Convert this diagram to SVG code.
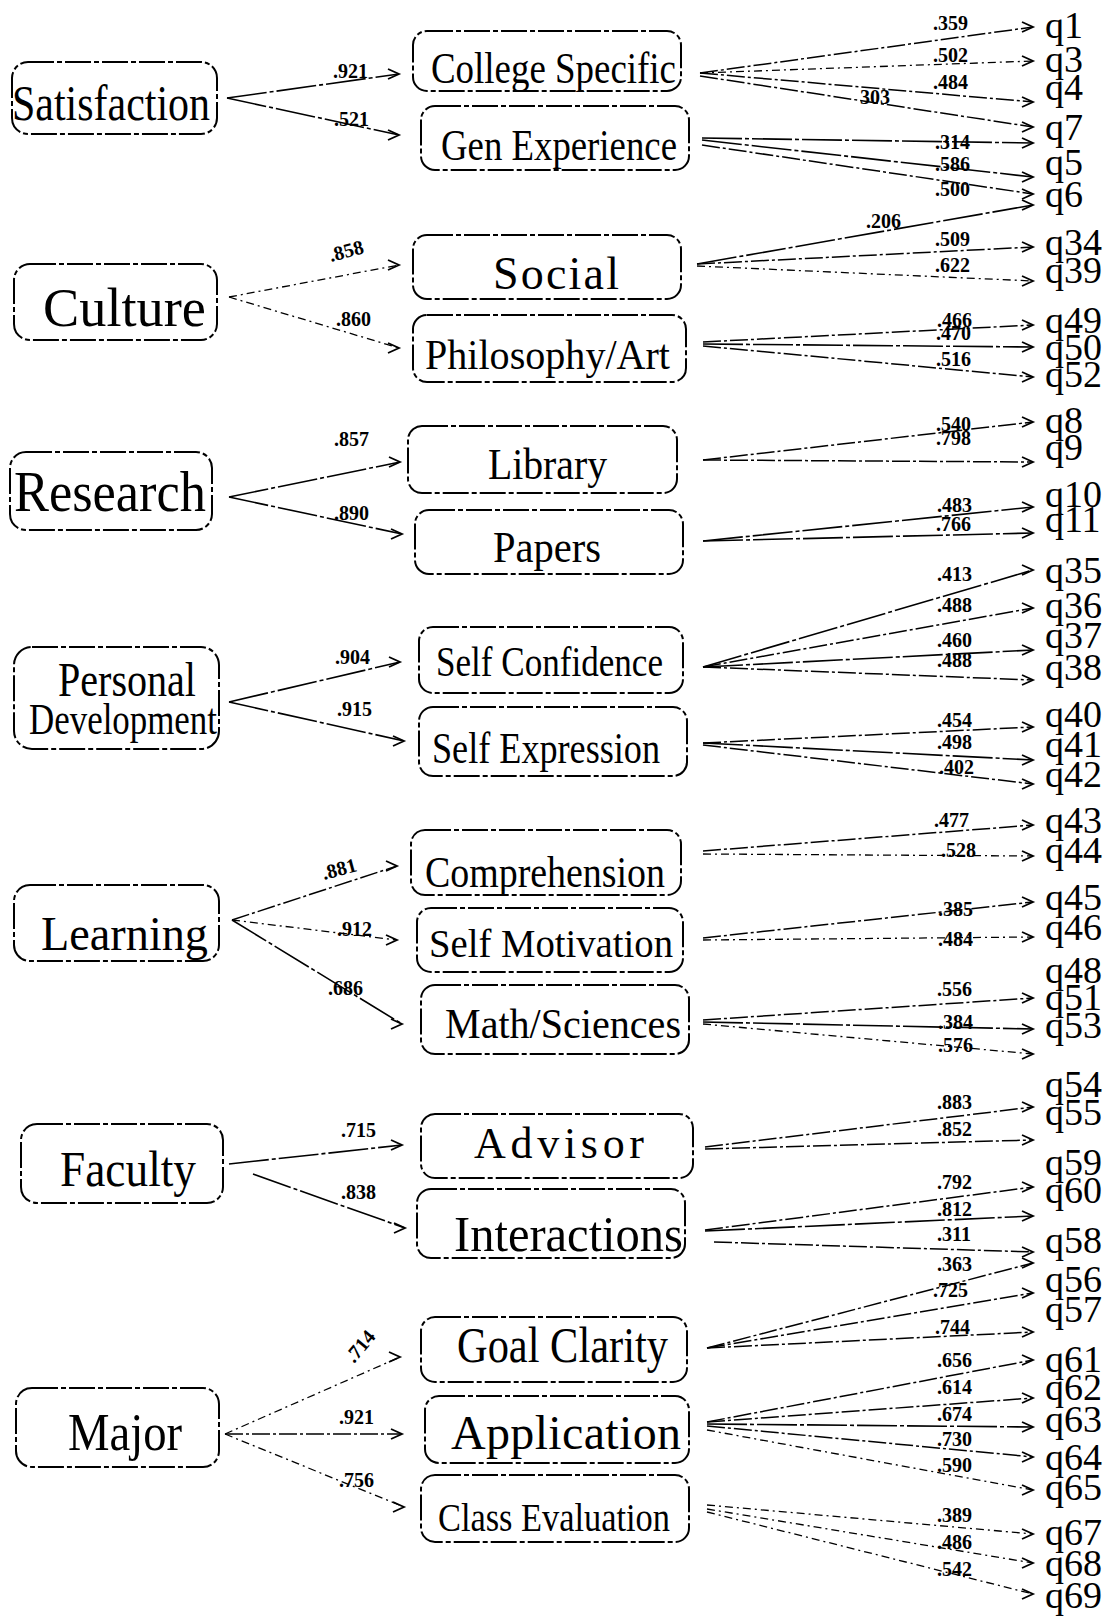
<svg xmlns="http://www.w3.org/2000/svg" width="1112" height="1617" viewBox="0 0 1112 1617">
<defs>
<marker id="ah" markerWidth="16" markerHeight="14" refX="12" refY="6" orient="0" markerUnits="userSpaceOnUse">
<path d="M1,1 L12,6 L1,11" fill="none" stroke="#000" stroke-width="1.8"/>
</marker>
<style>
.box{fill:#fff;stroke:#000;stroke-width:2;stroke-dasharray:26 3 5 3}
.lt{font-family:"Liberation Serif","Times New Roman",serif;fill:#000}
.q{font-family:"Liberation Serif","Times New Roman",serif;font-size:38px;fill:#000}
.ld{font-family:"Liberation Serif","Times New Roman",serif;font-size:20px;font-weight:bold;fill:#000}
.c{fill:none;stroke:#000;stroke-width:1.5;stroke-dasharray:18 3 3 3;marker-end:url(#ah)}
.cs{fill:none;stroke:#000;stroke-width:1.6;stroke-dasharray:40 3 4 3;marker-end:url(#ah)}
.cd{fill:none;stroke:#000;stroke-width:1.3;stroke-dasharray:8 4 2 4;marker-end:url(#ah)}
</style>
</defs>
<rect width="1112" height="1617" fill="#fff"/>

<!-- left nodes -->
<g id="satisfaction"><rect class="box" x="12" y="62" width="205" height="72" rx="16"/><text class="lt" x="12" y="120" font-size="50" textLength="198" lengthAdjust="spacingAndGlyphs">Satisfaction</text></g>
<g id="culture"><rect class="box" x="14" y="264" width="203" height="76" rx="16"/><text class="lt" x="43" y="326" font-size="54" textLength="163" lengthAdjust="spacingAndGlyphs">Culture</text></g>
<g id="research"><rect class="box" x="10" y="452" width="202" height="78" rx="16"/><text class="lt" x="14" y="511" font-size="56" textLength="192" lengthAdjust="spacingAndGlyphs">Research</text></g>
<g id="personal-development"><rect class="box" x="14" y="647" width="205" height="102" rx="18"/><text class="lt" x="58" y="696" font-size="48" textLength="138" lengthAdjust="spacingAndGlyphs">Personal</text><text class="lt" x="29" y="734" font-size="44" textLength="188" lengthAdjust="spacingAndGlyphs">Development</text></g>
<g id="learning"><rect class="box" x="14" y="885" width="205" height="76" rx="16"/><text class="lt" x="41" y="950" font-size="48" textLength="167" lengthAdjust="spacingAndGlyphs">Learning</text></g>
<g id="faculty"><rect class="box" x="21" y="1124" width="202" height="79" rx="16"/><text class="lt" x="60" y="1186" font-size="50" textLength="136" lengthAdjust="spacingAndGlyphs">Faculty</text></g>
<g id="major"><rect class="box" x="16" y="1388" width="203" height="79" rx="16"/><text class="lt" x="68" y="1450" font-size="52" textLength="114" lengthAdjust="spacingAndGlyphs">Major</text></g>

<!-- middle nodes -->
<g id="college-specific"><rect class="box" x="413" y="31" width="268" height="60" rx="14"/><text class="lt" x="431" y="83" font-size="44" textLength="245" lengthAdjust="spacingAndGlyphs">College  Specific</text></g>
<g id="gen-experience"><rect class="box" x="421" y="106" width="268" height="64" rx="14"/><text class="lt" x="441" y="160" font-size="44" textLength="236" lengthAdjust="spacingAndGlyphs">Gen Experience</text></g>
<g id="social"><rect class="box" x="413" y="235" width="268" height="64" rx="14"/><text class="lt" x="493" y="289" font-size="46" textLength="126" lengthAdjust="spacing">Social</text></g>
<g id="philosophy-art"><rect class="box" x="413" y="315" width="273" height="67" rx="14"/><text class="lt" x="425" y="369" font-size="42" textLength="245" lengthAdjust="spacingAndGlyphs">Philosophy/Art</text></g>
<g id="library"><rect class="box" x="408" y="426" width="269" height="67" rx="14"/><text class="lt" x="488" y="479" font-size="44" textLength="119" lengthAdjust="spacingAndGlyphs">Library</text></g>
<g id="papers"><rect class="box" x="415" y="510" width="268" height="64" rx="14"/><text class="lt" x="493" y="562" font-size="44" textLength="108" lengthAdjust="spacingAndGlyphs">Papers</text></g>
<g id="self-confidence"><rect class="box" x="419" y="627" width="264" height="66" rx="14"/><text class="lt" x="436" y="676" font-size="42" textLength="227" lengthAdjust="spacingAndGlyphs">Self Confidence</text></g>
<g id="self-expression"><rect class="box" x="419" y="707" width="268" height="69" rx="14"/><text class="lt" x="432" y="763" font-size="44" textLength="228" lengthAdjust="spacingAndGlyphs">Self Expression</text></g>
<g id="comprehension"><rect class="box" x="411" y="830" width="270" height="65" rx="14"/><text class="lt" x="425" y="887" font-size="44" textLength="240" lengthAdjust="spacingAndGlyphs">Comprehension</text></g>
<g id="self-motivation"><rect class="box" x="417" y="908" width="266" height="64" rx="14"/><text class="lt" x="429" y="957" font-size="40" textLength="244" lengthAdjust="spacingAndGlyphs">Self Motivation</text></g>
<g id="math-sciences"><rect class="box" x="421" y="985" width="268" height="69" rx="14"/><text class="lt" x="445" y="1038" font-size="42" textLength="236" lengthAdjust="spacingAndGlyphs">Math/Sciences</text></g>
<g id="advisor"><rect class="box" x="421" y="1114" width="272" height="64" rx="14"/><text class="lt" x="474" y="1158" font-size="44" textLength="170" lengthAdjust="spacing">Advisor</text></g>
<g id="interactions"><rect class="box" x="417" y="1189" width="268" height="69" rx="14"/><text class="lt" x="454" y="1251" font-size="50" textLength="229" lengthAdjust="spacingAndGlyphs">Interactions</text></g>
<g id="goal-clarity"><rect class="box" x="421" y="1317" width="266" height="65" rx="14"/><text class="lt" x="457" y="1362" font-size="50" textLength="211" lengthAdjust="spacingAndGlyphs">Goal Clarity</text></g>
<g id="application"><rect class="box" x="425" y="1396" width="264" height="67" rx="14"/><text class="lt" x="451" y="1449" font-size="48" textLength="230" lengthAdjust="spacing">Application</text></g>
<g id="class-evaluation"><rect class="box" x="421" y="1475" width="268" height="67" rx="14"/><text class="lt" x="438" y="1531" font-size="40" textLength="232" lengthAdjust="spacingAndGlyphs">Class Evaluation</text></g>

<!-- indicator labels -->
<g id="indicators">
<text class="q" x="1045" y="38">q1</text>
<text class="q" x="1045" y="72">q3</text>
<text class="q" x="1045" y="100">q4</text>
<text class="q" x="1045" y="140">q7</text>
<text class="q" x="1045" y="175">q5</text>
<text class="q" x="1045" y="207">q6</text>
<text class="q" x="1045" y="255">q34</text>
<text class="q" x="1045" y="283">q39</text>
<text class="q" x="1045" y="333">q49</text>
<text class="q" x="1045" y="360">q50</text>
<text class="q" x="1045" y="387">q52</text>
<text class="q" x="1045" y="433">q8</text>
<text class="q" x="1045" y="460">q9</text>
<text class="q" x="1045" y="507">q10</text>
<text class="q" x="1045" y="532">q11</text>
<text class="q" x="1045" y="583">q35</text>
<text class="q" x="1045" y="618">q36</text>
<text class="q" x="1045" y="648">q37</text>
<text class="q" x="1045" y="680">q38</text>
<text class="q" x="1045" y="727">q40</text>
<text class="q" x="1045" y="757">q41</text>
<text class="q" x="1045" y="787">q42</text>
<text class="q" x="1045" y="833">q43</text>
<text class="q" x="1045" y="863">q44</text>
<text class="q" x="1045" y="910">q45</text>
<text class="q" x="1045" y="940">q46</text>
<text class="q" x="1045" y="983">q48</text>
<text class="q" x="1045" y="1010">q51</text>
<text class="q" x="1045" y="1038">q53</text>
<text class="q" x="1045" y="1097">q54</text>
<text class="q" x="1045" y="1125">q55</text>
<text class="q" x="1045" y="1175">q59</text>
<text class="q" x="1045" y="1203">q60</text>
<text class="q" x="1045" y="1253">q58</text>
<text class="q" x="1045" y="1292">q56</text>
<text class="q" x="1045" y="1322">q57</text>
<text class="q" x="1045" y="1372">q61</text>
<text class="q" x="1045" y="1400">q62</text>
<text class="q" x="1045" y="1432">q63</text>
<text class="q" x="1045" y="1470">q64</text>
<text class="q" x="1045" y="1500">q65</text>
<text class="q" x="1045" y="1545">q67</text>
<text class="q" x="1045" y="1576">q68</text>
<text class="q" x="1045" y="1608">q69</text>
</g>

<!-- connectors -->
<g id="connectors">
<!-- left -->
<path class="cs" d="M227,98 L399,74"/>
<path class="cs" d="M227,98 L399,135"/>
<path class="cd" d="M229,297 L399,265"/>
<path class="cd" d="M229,297 L399,348"/>
<path class="cs" d="M229,497 L400,462"/>
<path class="cs" d="M229,497 L402,534"/>
<path class="cs" d="M229,702 L400,662"/>
<path class="cs" d="M229,702 L404,741"/>
<path class="c" d="M232,920 L397,866"/>
<path class="cd" d="M232,920 L397,940"/>
<path class="cs" d="M232,920 L402,1024"/>
<path class="cs" d="M229,1164 L402,1145"/>
<path class="cs" d="M253,1174 L405,1228"/>
<path class="cd" d="M225,1434 L400,1357"/>
<path class="c" d="M225,1434 L402,1434"/>
<path class="cd" d="M225,1434 L404,1507"/>
<!-- right -->
<path class="c" d="M700,73 L1033,27"/>
<path class="cd" d="M700,73 L1033,61"/>
<path class="c" d="M700,73 L1033,102"/>
<path class="c" d="M700,76 L1033,127"/>
<path class="cs" d="M702,138 L1033,143"/>
<path class="cs" d="M702,140 L1033,177"/>
<path class="c" d="M702,145 L1033,194"/>
<path class="cs" d="M697,264 L1033,205"/>
<path class="c" d="M697,264 L1033,247"/>
<path class="cd" d="M697,266 L1033,281"/>
<path class="c" d="M703,342 L1033,325"/>
<path class="cs" d="M703,344 L1033,347"/>
<path class="c" d="M703,346 L1033,377"/>
<path class="c" d="M703,460 L1033,422"/>
<path class="c" d="M703,460 L1033,462"/>
<path class="cs" d="M703,541 L1033,507"/>
<path class="cs" d="M703,541 L1033,533"/>
<path class="cs" d="M703,667 L1033,570"/>
<path class="c" d="M703,667 L1033,608"/>
<path class="cs" d="M703,667 L1033,650"/>
<path class="c" d="M703,667 L1033,680"/>
<path class="c" d="M703,743 L1033,727"/>
<path class="cs" d="M703,743 L1033,760"/>
<path class="c" d="M703,745 L1033,784"/>
<path class="c" d="M703,851 L1033,825"/>
<path class="cd" d="M703,854 L1033,856"/>
<path class="c" d="M703,938 L1033,902"/>
<path class="cd" d="M703,940 L1033,937"/>
<path class="c" d="M703,1020 L1033,998"/>
<path class="cs" d="M703,1022 L1033,1029"/>
<path class="cd" d="M703,1024 L1033,1054"/>
<path class="c" d="M705,1147 L1033,1107"/>
<path class="c" d="M705,1149 L1033,1140"/>
<path class="c" d="M705,1230 L1033,1187"/>
<path class="cs" d="M705,1231 L1033,1216"/>
<path class="c" d="M714,1242 L1033,1252"/>
<path class="c" d="M707,1348 L1033,1263"/>
<path class="c" d="M707,1348 L1033,1293"/>
<path class="c" d="M707,1348 L1033,1332"/>
<path class="c" d="M707,1422 L1033,1360"/>
<path class="c" d="M707,1422 L1033,1398"/>
<path class="cs" d="M707,1424 L1033,1427"/>
<path class="c" d="M707,1426 L1033,1457"/>
<path class="cd" d="M707,1430 L1033,1490"/>
<path class="cd" d="M707,1505 L1033,1534"/>
<path class="cd" d="M707,1509 L1033,1563"/>
<path class="cd" d="M707,1512 L1033,1594"/>
</g>

<!-- loadings -->
<g id="loadings">
<text class="ld" x="333" y="78">.921</text>
<text class="ld" x="334" y="126">.521</text>
<text class="ld" x="331" y="262" transform="rotate(-15 331 262)">.858</text>
<text class="ld" x="336" y="326">.860</text>
<text class="ld" x="334" y="446">.857</text>
<text class="ld" x="334" y="520">.890</text>
<text class="ld" x="335" y="664">.904</text>
<text class="ld" x="337" y="716">.915</text>
<text class="ld" x="324" y="880" transform="rotate(-15 324 880)">.881</text>
<text class="ld" x="337" y="936">.912</text>
<text class="ld" x="328" y="995">.686</text>
<text class="ld" x="341" y="1137">.715</text>
<text class="ld" x="341" y="1199">.838</text>
<text class="ld" x="354" y="1364" transform="rotate(-50 354 1364)">.714</text>
<text class="ld" x="339" y="1424">.921</text>
<text class="ld" x="339" y="1487">.756</text>

<text class="ld" x="933" y="30">.359</text>
<text class="ld" x="933" y="62">.502</text>
<text class="ld" x="933" y="89">.484</text>
<text class="ld" x="860" y="104">303</text>
<text class="ld" x="935" y="149">.314</text>
<text class="ld" x="935" y="171">.586</text>
<text class="ld" x="935" y="196">.500</text>
<text class="ld" x="866" y="228">.206</text>
<text class="ld" x="935" y="246">.509</text>
<text class="ld" x="935" y="272">.622</text>
<text class="ld" x="937" y="327">.466</text>
<text class="ld" x="936" y="340">.470</text>
<text class="ld" x="936" y="366">.516</text>
<text class="ld" x="936" y="431">.540</text>
<text class="ld" x="936" y="445">.798</text>
<text class="ld" x="937" y="512">.483</text>
<text class="ld" x="936" y="531">.766</text>
<text class="ld" x="937" y="581">.413</text>
<text class="ld" x="937" y="612">.488</text>
<text class="ld" x="937" y="647">.460</text>
<text class="ld" x="937" y="667">.488</text>
<text class="ld" x="937" y="727">.454</text>
<text class="ld" x="937" y="749">.498</text>
<text class="ld" x="939" y="774">.402</text>
<text class="ld" x="934" y="827">.477</text>
<text class="ld" x="941" y="857">.528</text>
<text class="ld" x="938" y="916">.385</text>
<text class="ld" x="938" y="946">.484</text>
<text class="ld" x="937" y="996">.556</text>
<text class="ld" x="938" y="1029">.384</text>
<text class="ld" x="938" y="1052">.576</text>
<text class="ld" x="937" y="1109">.883</text>
<text class="ld" x="937" y="1136">.852</text>
<text class="ld" x="937" y="1189">.792</text>
<text class="ld" x="937" y="1216">.812</text>
<text class="ld" x="937" y="1241">.311</text>
<text class="ld" x="937" y="1271">.363</text>
<text class="ld" x="933" y="1297">.725</text>
<text class="ld" x="935" y="1334">.744</text>
<text class="ld" x="937" y="1367">.656</text>
<text class="ld" x="937" y="1394">.614</text>
<text class="ld" x="937" y="1421">.674</text>
<text class="ld" x="937" y="1446">.730</text>
<text class="ld" x="937" y="1472">.590</text>
<text class="ld" x="937" y="1522">.389</text>
<text class="ld" x="937" y="1549">.486</text>
<text class="ld" x="937" y="1576">.542</text>
</g>
</svg>
